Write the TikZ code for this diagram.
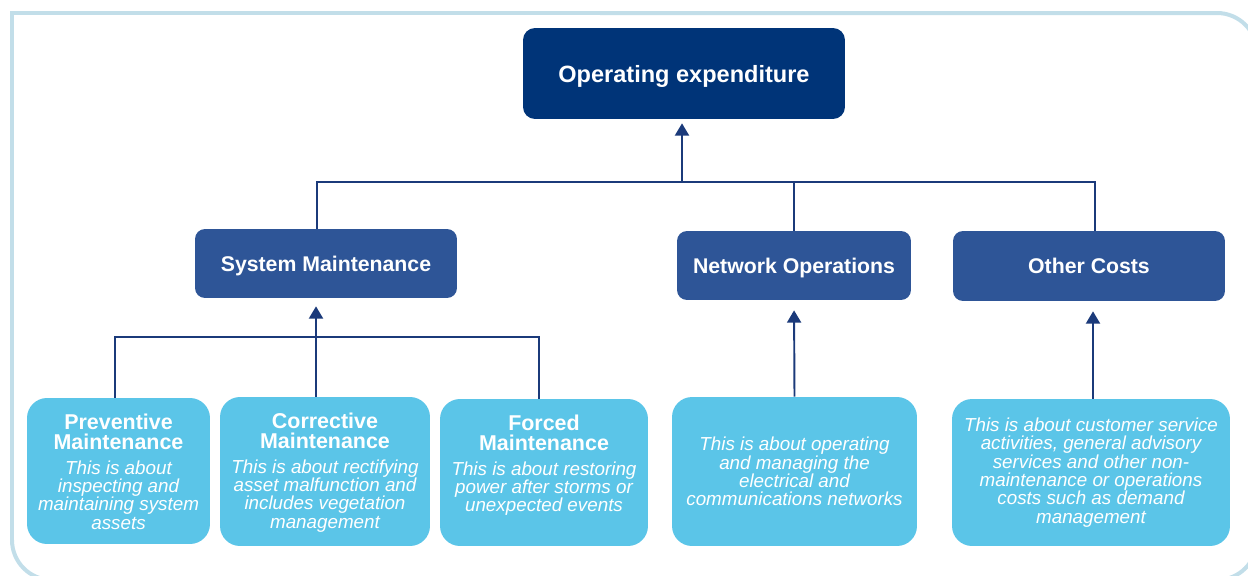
\documentclass[tikz,border=0pt]{standalone}
\usepackage{fontspec}
\setmainfont{Liberation Sans}
\usepackage{tikz}
\usetikzlibrary{
	positioning,
	arrows.meta
}

\definecolor{opexnavy}{HTML}{003478}
\definecolor{groupblue}{HTML}{2E5597}
\definecolor{itemblue}{HTML}{5BC5E8}
\definecolor{linknavy}{HTML}{1B3A7A}
\definecolor{framecyan}{HTML}{C2DEE9}

\newcommand{\itemhead}[1]{{\upshape\bfseries\fontsize{12.2}{11.3}\selectfont #1}}

\tikzset{
	topbox/.style={fill=opexnavy, rounded corners=0.24cm, text=white, text depth=0pt,
		font=\fontsize{13.4}{16}\selectfont\bfseries},
	groupbox/.style={fill=groupblue, rounded corners=0.2cm, text=white, text depth=0pt,
		font=\fontsize{12.1}{14}\selectfont\bfseries},
	itembox/.style={fill=itemblue, rounded corners=0.4cm, text=white, align=center,
		font=\fontsize{10.7}{10.4}\selectfont\itshape},
	itemtext/.style={text=white, align=center, inner sep=0pt,
		font=\fontsize{10.7}{10.4}\selectfont\itshape},
	link/.style={draw=linknavy, line width=1.1pt},
	uplink/.style={link, -{Triangle[width=8pt,length=7pt]}},
	frame/.style={draw=framecyan, line width=0.08cm}
}

\begin{document}
\begin{tikzpicture}[x=0.02cm, y=-0.02cm]
	\useasboundingbox (0,0) rectangle (1248,575);
	\draw[frame] (12,300) -- (12,13) -- (600,13);
	\draw[frame, rounded corners=0.8cm] (600,13) -- (1257,13) -- (1257,580) -- (12,580) -- (12,300);

	\draw
		node[topbox, minimum width=6.44cm, minimum height=1.82cm] at (684,73.5) (opex) {Operating expenditure}
		node[groupbox, minimum width=5.24cm, minimum height=1.38cm] at (326,263.5) (sysmaint) {System Maintenance}
		node[groupbox, minimum width=4.68cm, minimum height=1.38cm] at (794,265.5) (netops) {Network Operations}
		node[groupbox, minimum width=5.44cm, minimum height=1.40cm] at (1089,266) (other) {Other Costs}

		node[itembox, minimum width=3.66cm, minimum height=2.92cm] at (118.5,471) (prev) {}
		node[itembox, minimum width=4.20cm, minimum height=2.98cm] at (325,471.5) (corr) {}
		node[itembox, minimum width=4.16cm, minimum height=2.94cm] at (544,472.5) (forced) {}
		node[itembox, minimum width=4.90cm, minimum height=2.98cm] at (794.5,471.5) (netdesc)
			{This is about operating\\and managing the\\electrical and\\communications networks}
		node[itembox, minimum width=5.56cm, minimum height=2.94cm] at (1091,472.5) (otherdesc)
			{This is about customer service\\activities, general advisory\\services and other non-\\maintenance or operations\\costs such as demand\\management}
	;

	\node[itemtext, below=0.32cm of prev.north] (prevtext)
		{\itemhead{Preventive}\\[0.9pt]\itemhead{Maintenance}\\[3.8pt]This is about\\inspecting and\\maintaining system\\assets};
	\node[itemtext, below=0.32cm of corr.north] (corrtext)
		{\itemhead{Corrective}\\[0.9pt]\itemhead{Maintenance}\\[3.8pt]This is about rectifying\\asset malfunction and\\includes vegetation\\management};
	\node[itemtext, below=0.32cm of forced.north] (forcedtext)
		{\itemhead{Forced}\\[0.9pt]\itemhead{Maintenance}\\[3.8pt]This is about restoring\\power after storms or\\unexpected events};

	\coordinate (topbus) at (682,182);
	\coordinate (sysbus) at (316,337);
	\coordinate (sysdrop) at ([xshift=-0.18cm]sysmaint.north);
	\coordinate (otherdrop) at ([xshift=0.12cm]other.north);
	\coordinate (prevrise) at ([xshift=-0.07cm]prev.north);
	\coordinate (forcedrise) at ([xshift=-0.1cm]forced.north);
	\coordinate (corrrise) at ([xshift=-0.18cm]corr.north);

	\draw[link] (sysdrop) -- (sysdrop |- topbus) -- (otherdrop |- topbus) -- (otherdrop);
	\draw[link] (netops.north) -- (netops.north |- topbus);
	\draw[uplink, shorten >=0.08cm] (topbus) -- (topbus |- opex.south);

	\draw[link] (prevrise) -- (prevrise |- sysbus) -- (forcedrise |- sysbus) -- (forcedrise);
	\draw[uplink, shorten >=0.16cm] (corrrise) -- (corrrise |- sysmaint.south);
	\draw[uplink, shorten >=0.2cm] (netdesc.north) -- (netops.south);
	\draw[uplink, shorten >=0.2cm] ([xshift=0.04cm]otherdesc.north) -- ([xshift=0.04cm]otherdesc.north |- other.south);
\end{tikzpicture}
\end{document}
